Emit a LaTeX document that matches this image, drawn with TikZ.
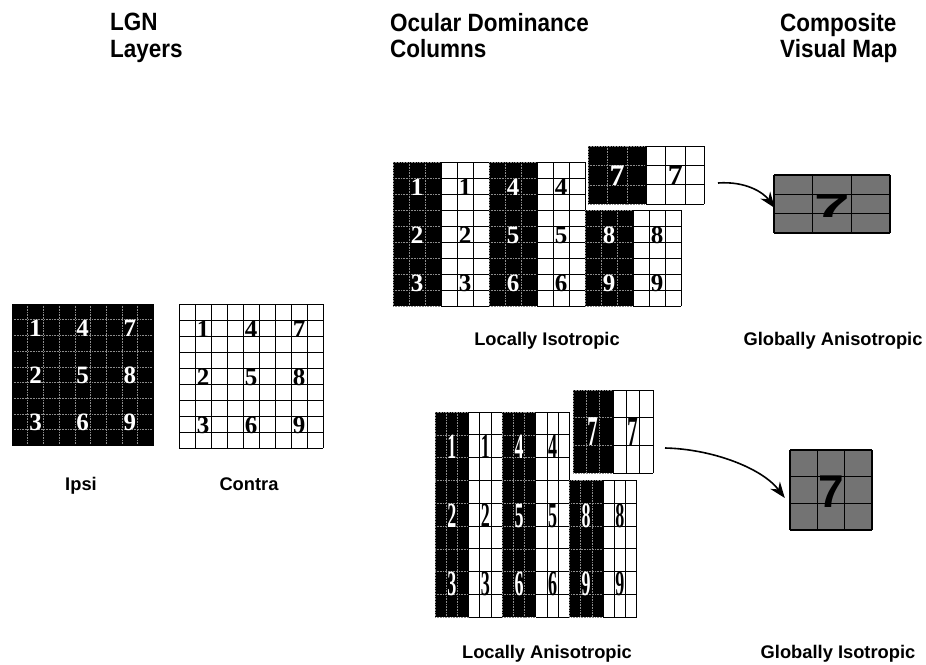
\documentclass[tikz,border=0pt]{standalone}
\usepackage{fontspec}
\usepackage{graphicx}
\newfontfamily\sansbf{Liberation Sans}
\newfontfamily\headfont[FakeStretch=0.9]{Liberation Sans}
\newfontfamily\serifbf{Liberation Serif}
\usetikzlibrary{arrows.meta}

\begin{document}
\begin{tikzpicture}[x=1pt,y=-1pt]

    \tikzstyle{every node}=[inner sep=0pt]
    \tikzstyle{title}=[font=\headfont\bfseries\fontsize{25}{26.5}\selectfont, align=left, anchor=north west]
    \tikzstyle{caption}=[font=\sansbf\bfseries\fontsize{18.3}{20}\selectfont, anchor=base]
    \tikzstyle{ipsidigit}=[text=white, font=\serifbf\bfseries\fontsize{25}{25}\selectfont]
    \tikzstyle{contradigit}=[text=black, font=\serifbf\bfseries\fontsize{25}{25}\selectfont]
    \tikzstyle{ipsigrid}=[black!45!white, densely dotted, line width=.6pt]
    \tikzstyle{contragrid}=[black, line width=.8pt]
    \tikzstyle{map}=[fill=black!55, rectangle]
    \tikzstyle{mapgrid}=[black, line width=1.3pt]
    \tikzstyle{blend}=[text=black, font=\sansbf\bfseries]
    \tikzstyle{proj}=[-{Stealth[length=16pt,width=12pt]}, line width=1.6pt]

    \useasboundingbox (0,0) rectangle (926,664);

    % #6 x #7 cells, top left corner (#2,#3), cell size #4 x #5
    \def\cells[#1]#2#3#4#5#6#7{%
      \foreach \i in {0,...,#6} \draw[#1] ({#2+\i*#4},#3) -- ++(0,{#7*#5});
      \foreach \j in {0,...,#7} \draw[#1] (#2,{#3+\j*#5}) -- ++({#6*#4},0);
    }
    \def\ipsi#1#2#3#4#5#6{%
      \fill[black] (#1,#2) rectangle ++({#5*#3},{#6*#4});
      \cells[ipsigrid]{#1}{#2}{#3}{#4}{#5}{#6}
    }
    \def\contra#1#2#3#4#5#6{%
      \fill[white] (#1,#2) rectangle ++({#5*#3},{#6*#4});
      \cells[contragrid]{#1}{#2}{#3}{#4}{#5}{#6}
    }
    \def\tall#1{\scalebox{0.72}[1.42]{#1}}
    \def\Tall#1{\scalebox{0.86}[1.7]{#1}}

    % titles
    \node[title] (tlgn) at (110,13) {LGN\\Layers};
    \node[title] (todc) at (390,13) {Ocular Dominance\\Columns};
    \node[title] (tmap) at (780,13) {Composite\\Visual Map};

    % LGN layers
    \def\lw{15.7}
    \ipsi{12}{304}{\lw}{\lw}{9}{9}
    \draw[line width=.8pt] (12,304) rectangle ++({9*\lw},{9*\lw});
    \contra{179}{304}{16}{16}{9}{9}
    \foreach \c in {0,1,2} \foreach \r in {0,1,2} {
      \pgfmathtruncatemacro\n{3*\c+\r+1}
      \node[ipsidigit] (li\n) at ({12+(3*\c+1.5)*\lw},{305+(3*\r+1.5)*\lw}) {\n};
      \node[contradigit] (lc\n) at ({179+(3*\c+1.5)*16},{305+(3*\r+1.5)*16}) {\n};
    }
    \node[caption] (cipsi) at (81,490) {Ipsi};
    \node[caption] (ccontra) at (249,490) {Contra};

    % locally isotropic columns
    \def\ow{16}
    \ipsi{393}{162}{\ow}{\ow}{3}{9}
    \contra{441}{162}{\ow}{\ow}{3}{9}
    \ipsi{489}{162}{\ow}{\ow}{3}{9}
    \contra{537}{162}{\ow}{\ow}{3}{9}
    \ipsi{585}{210}{\ow}{\ow}{3}{6}
    \contra{633}{210}{\ow}{\ow}{3}{6}
    \foreach \c in {0,1} \foreach \r in {0,1,2} {
      \pgfmathtruncatemacro\n{3*\c+\r+1}
      \node[ipsidigit] (ui\n) at ({393+96*\c+24},{163+48*\r+24}) {\n};
      \node[contradigit] (uc\n) at ({441+96*\c+24},{163+48*\r+24}) {\n};
    }
    \foreach \r in {1,2} {
      \pgfmathtruncatemacro\n{7+\r}
      \node[ipsidigit] (ui\n) at (609,{163+48*\r+24}) {\n};
      \node[contradigit] (uc\n) at (657,{163+48*\r+24}) {\n};
    }
    % column 7 lifted out
    \ipsi{588}{146}{19.4}{19.4}{3}{3}
    \contra{646.2}{146}{19.4}{19.4}{3}{3}
    \node[ipsidigit, font=\serifbf\bfseries\fontsize{30}{30}\selectfont] (ui7) at (617.1,176) {7};
    \node[contradigit, font=\serifbf\bfseries\fontsize{30}{30}\selectfont] (uc7) at (675.3,176) {7};
    \node[caption] (cli) at (547,345) {Locally Isotropic};

    % locally anisotropic columns
    \def\aw{11.2}
    \def\ah{22.8}
    \ipsi{435}{412}{\aw}{\ah}{3}{9}
    \contra{468.6}{412}{\aw}{\ah}{3}{9}
    \ipsi{502.2}{412}{\aw}{\ah}{3}{9}
    \contra{535.8}{412}{\aw}{\ah}{3}{9}
    \ipsi{569.4}{480.4}{\aw}{\ah}{3}{6}
    \contra{603}{480.4}{\aw}{\ah}{3}{6}
    \foreach \c in {0,1} \foreach \r in {0,1,2} {
      \pgfmathtruncatemacro\n{3*\c+\r+1}
      \node[ipsidigit] (bi\n) at ({435+67.2*\c+16.8},{413+68.4*\r+34.2}) {\tall{\n}};
      \node[contradigit] (bc\n) at ({468.6+67.2*\c+16.8},{413+68.4*\r+34.2}) {\tall{\n}};
    }
    \foreach \r in {1,2} {
      \pgfmathtruncatemacro\n{7+\r}
      \node[ipsidigit] (bi\n) at (586.2,{413+68.4*\r+34.2}) {\tall{\n}};
      \node[contradigit] (bc\n) at (619.8,{413+68.4*\r+34.2}) {\tall{\n}};
    }
    \ipsi{573}{390}{13.33}{27.67}{3}{3}
    \contra{613}{390}{13.33}{27.67}{3}{3}
    \node[ipsidigit] (bi7) at (593,432) {\Tall{7}};
    \node[contradigit] (bc7) at (633,432) {\Tall{7}};
    \node[caption] (cla) at (547,658) {Locally Anisotropic};

    % composite maps
    \node[map, minimum width=116pt, minimum height=58pt] (mapA) at (832,204) {};
    \cells[mapgrid]{774}{175}{38.67}{19.33}{3}{3}
    \node[blend, font=\sansbf\bfseries\fontsize{32}{32}\selectfont] (sevenA) at (832,206.5) {\scalebox{2}[1]{7}};
    \node[caption] (cga) at (833,345) {Globally Anisotropic};

    \node[map, minimum width=82pt, minimum height=80pt] (mapB) at (831,490) {};
    \cells[mapgrid]{790}{450}{27.33}{26.67}{3}{3}
    \node[blend, font=\sansbf\bfseries\fontsize{46}{46}\selectfont] (sevenB) at (831,491.5) {7};
    \node[caption] (cgi) at (838,658) {Globally Isotropic};

    % projections
    \coordinate (tailA) at (718,183);
    \coordinate (tailB) at (665,448);
    \draw[proj] (tailA) .. controls (745,181) and (763,192) .. ([xshift=1pt,yshift=-4pt]mapA.west);
    \draw[proj] (tailB) .. controls (712,449) and (762,468) .. ([xshift=-5pt,yshift=-8pt]mapB.west);

\end{tikzpicture}
\end{document}
